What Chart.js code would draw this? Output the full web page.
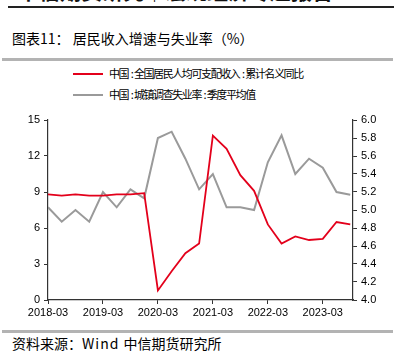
<!DOCTYPE html>
<html>
<head>
<meta charset="utf-8">
<script src="https://cdn.jsdelivr.net/npm/chart.js@4.4.0/dist/chart.umd.min.js"></script>
<style>
  html, body { margin: 0; padding: 0; background: #fff; }
  body { width: 394px; height: 354px; position: relative; overflow: hidden;
         font-family: "Noto Sans CJK SC", "Noto Sans", sans-serif; color: #000; }
  .abs { position: absolute; white-space: nowrap; }
  #head { left: 18px; top: -25px; font-size: 21px; font-weight: bold; color: #111; }
  #topline { left: 8px; right: 0; top: 6px; height: 2px; background: #222; }
  #title { left: 12px; top: 28px; font-size: 14px; line-height: 20px; }
  #bar1 { left: 2px; right: 1px; top: 58px; height: 3px; background: #b3b3b3; }
  .leg { left: 73px; font-size: 11px; line-height: 14px; letter-spacing: -1.4px; }
  .leg b { font-weight: normal; padding: 0 1.5px 0 2.5px; }
  .leg i { display: inline-block; width: 30px; height: 2px; vertical-align: middle; margin-right: 6px; position: relative; top: -1px; }
  #bar2 { left: 2px; right: 1px; top: 330px; height: 3px; background: #b3b3b3; }
  #source { left: 12px; top: 334px; font-size: 14px; line-height: 18px; }
  #source span { letter-spacing: 1px; }
  #wrap { left: 0; top: 100px; width: 394px; height: 230px; }
</style>
</head>
<body>
<div class="abs" id="head">中信期货研究｜宏观经济专题报告</div>
<div class="abs" id="topline"></div>
<div class="abs" id="title">图表11： 居民收入增速与失业率（%）</div>
<div class="abs" id="bar1"></div>
<div class="abs leg" style="top:66px"><i style="background:#e3001b"></i>中国<b>:</b>全国居民人均可支配收入<b>:</b>累计名义同比</div>
<div class="abs leg" style="top:87px"><i style="background:#9a9a9a"></i>中国<b>:</b>城镇调查失业率<b>:</b>季度平均值</div>
<div class="abs" id="wrap"><canvas id="c" width="394" height="230"></canvas></div>
<div class="abs" id="bar2"></div>
<div class="abs" id="source">资料来源：<span>Wind </span>中信期货研究所</div>

<script>
// quarters 2018-03 .. 2023-09
const quarters = [
  '2018-03', '2018-06', '2018-09', '2018-12',
  '2019-03', '2019-06', '2019-09', '2019-12',
  '2020-03', '2020-06', '2020-09', '2020-12',
  '2021-03', '2021-06', '2021-09', '2021-12',
  '2022-03', '2022-06', '2022-09', '2022-12',
  '2023-03', '2023-06', '2023-09'
];

// 居民人均可支配收入 累计名义同比 (left axis)
const incomeYoY = [
  8.8, 8.7, 8.8, 8.7,
  8.7, 8.8, 8.8, 8.9,
  0.8, 2.4, 3.9, 4.7,
  13.7, 12.6, 10.4, 9.1,
  6.3, 4.7, 5.3, 5.0,
  5.1, 6.5, 6.3
];

// 城镇调查失业率 季度平均 (right axis)
const unemployment = [
  5.03, 4.87, 5.0, 4.87,
  5.2, 5.03, 5.23, 5.13,
  5.8, 5.87, 5.57, 5.23,
  5.4, 5.03, 5.03, 5.0,
  5.53, 5.83, 5.4, 5.57,
  5.47, 5.2, 5.17
];

const axisColor = '#333';
const tickFont = { family: '"Liberation Sans", Arial, sans-serif', size: 11 };

const toPoints = arr => arr.map((v, i) => ({ x: i, y: v }));

new Chart(document.getElementById('c'), {
  type: 'line',
  data: {
    datasets: [
      {
        label: '中国:全国居民人均可支配收入:累计名义同比',
        data: toPoints(incomeYoY),
        borderColor: '#e3001b',
        borderWidth: 1.8,
        pointRadius: 0,
        yAxisID: 'y'
      },
      {
        label: '中国:城镇调查失业率:季度平均值',
        data: toPoints(unemployment),
        borderColor: '#9a9a9a',
        borderWidth: 2,
        pointRadius: 0,
        yAxisID: 'y2'
      }
    ]
  },
  options: {
    responsive: false,
    animation: false,
    layout: { padding: { top: 20, left: 0, right: 0, bottom: 0 } },
    plugins: { legend: { display: false }, tooltip: { enabled: false } },
    scales: {
      x: {
        type: 'linear',
        min: 0,
        max: 22.2,
        afterFit: s => { s.height = 30; },
        grid: { drawOnChartArea: false, tickLength: 4, color: axisColor },
        border: { color: axisColor, width: 1.2 },
        ticks: {
          stepSize: 4,
          includeBounds: false,
          autoSkip: false,
          maxRotation: 0,
          padding: 2,
          color: '#000',
          font: tickFont,
          callback: v => quarters[v] ?? ''
        }
      },
      y: {
        position: 'left',
        min: 0,
        max: 15,
        afterFit: s => { s.width = 48; },
        grid: { drawOnChartArea: false, tickLength: 4, color: axisColor },
        border: { color: axisColor, width: 1.2 },
        ticks: { stepSize: 3, padding: 4, color: '#000', font: tickFont }
      },
      y2: {
        position: 'right',
        min: 4,
        max: 6,
        afterFit: s => { s.width = 41; },
        grid: { drawOnChartArea: false, tickLength: 4, color: axisColor },
        border: { color: axisColor, width: 1.2 },
        ticks: {
          stepSize: 0.2,
          padding: 4,
          color: '#000',
          font: tickFont,
          callback: v => Number(v).toFixed(1)
        }
      }
    }
  }
});
</script>
</body>
</html>
